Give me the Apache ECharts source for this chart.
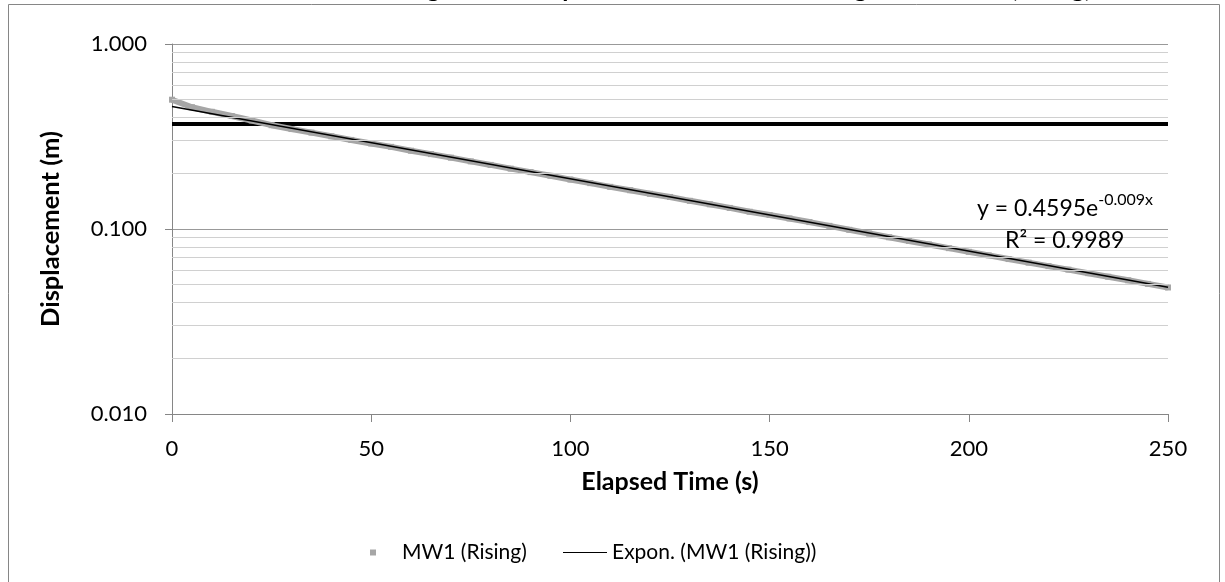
<!DOCTYPE html>
<html>
<head>
<meta charset="utf-8">
<title>MW1 (Rising)</title>
<script src="https://cdn.jsdelivr.net/npm/echarts@6/dist/echarts.min.js"></script>
<style>
  html, body { margin: 0; padding: 0; background: #fff; }
  #main { width: 1225px; height: 582px; }
</style>
</head>
<body>
<div id="main"></div>
<script>
var times = [0, 5, 10, 15, 20, 25, 30, 35, 40, 45, 50, 55, 60, 65, 70, 75, 80, 85, 90, 95,
  100, 105, 110, 115, 120, 125, 130, 135, 140, 145, 150, 155, 160, 165, 170, 175, 180, 185, 190, 195,
  200, 205, 210, 215, 220, 225, 230, 235, 240, 245, 250];
var displacement = [0.500, 0.455, 0.430, 0.408, 0.386, 0.364, 0.347, 0.332, 0.317, 0.303,
  0.290, 0.278, 0.265, 0.254, 0.243, 0.232, 0.222, 0.212, 0.203, 0.194,
  0.185, 0.177, 0.169, 0.162, 0.155, 0.149, 0.142, 0.136, 0.130, 0.124,
  0.119, 0.114, 0.109, 0.104, 0.0990, 0.0945, 0.0902, 0.0862, 0.0825, 0.0788,
  0.0753, 0.0720, 0.0688, 0.0658, 0.0630, 0.0603, 0.0577, 0.0552, 0.0528, 0.0505, 0.0483];

// exponential trendline end points (straight on a log axis)
var trendX = [0, 250];
var trendY = [0.4595, 0.0484];

// horizontal reference line
var refX = [0, 250];
var refY = [0.37, 0.37];

// minor gridlines for the log axis
var minorGrid = [0.02, 0.03, 0.04, 0.05, 0.06, 0.07, 0.08, 0.09,
  0.2, 0.3, 0.4, 0.5, 0.6, 0.7, 0.8, 0.9];

var xTicks = [0, 50, 100, 150, 200, 250];

var font = 'Lato, "Open Sans", sans-serif';

function pairs(xs, ys) {
  return xs.map(function (x, i) { return [x, ys[i]]; });
}

var chart = echarts.init(document.getElementById('main'));

var option = {
  animation: false,
  textStyle: { fontFamily: font, color: '#000' },
  title: {
    // only the bottom of the title shows in the picture
    text: 'Semi-log Plot of Displacement vs. Time for Slug Test - MW1 (Rising)',
    left: 712,
    top: -29,
    textAlign: 'center',
    textStyle: { fontFamily: font, fontSize: 25, fontWeight: 'bold', color: '#000' }
  },
  grid: { left: 172, top: 44, width: 996, height: 370 },
  legend: [
    {
      data: ['MW1 (Rising)'],
      left: 365, top: 537,
      icon: 'rect', itemWidth: 6, itemHeight: 6,
      textStyle: { fontFamily: font, fontSize: 21, color: '#000', padding: [0, 0, 0, 21] }
    },
    {
      data: ['Expon. (MW1 (Rising))'],
      left: 558, top: 537,
      icon: 'rect', itemWidth: 44, itemHeight: 1,
      textStyle: { fontFamily: font, fontSize: 21, color: '#000' }
    }
  ],
  xAxis: {
    type: 'value',
    min: 0, max: 250, interval: 50,
    name: 'Elapsed Time (s)',
    nameLocation: 'middle',
    nameGap: 55,
    nameTextStyle: { fontFamily: font, fontSize: 25, fontWeight: 'bold', color: '#000' },
    axisLine: { show: true, onZero: false, lineStyle: { color: '#868686', width: 1 } },
    axisTick: { show: true, length: 8, lineStyle: { color: '#868686' } },
    axisLabel: { fontFamily: font, fontSize: 22, color: '#000', margin: 24,
      formatter: function (v) { return xTicks.indexOf(v) >= 0 ? String(v) : ''; } },
    splitLine: { show: false }
  },
  yAxis: {
    type: 'log',
    logBase: 10,
    min: 0.01, max: 1,
    splitNumber: 2,
    name: 'Displacement (m)',
    nameLocation: 'middle',
    nameGap: 108,
    nameRotate: 90,
    nameTextStyle: { fontFamily: font, fontSize: 25.5, fontWeight: 'bold', color: '#000' },
    axisLine: { show: true, lineStyle: { color: '#868686', width: 1 } },
    axisTick: { show: true, length: 7, lineStyle: { color: '#868686' } },
    axisLabel: { fontFamily: font, fontSize: 22, color: '#000', margin: 25,
      formatter: function (v) { return v.toFixed(3); } },
    splitLine: { show: true, lineStyle: { color: '#999999', width: 1 } },
    minorTick: { show: false },
    minorSplitLine: { show: false }
  },
  series: [
    {
      name: 'grid',
      type: 'line',
      data: [],
      silent: true,
      z: 1,
      markLine: {
        silent: true,
        symbol: 'none',
        label: { show: false },
        lineStyle: { color: '#d0d0d0', width: 1, type: 'solid' },
        data: minorGrid.map(function (v) { return { yAxis: v }; })
      }
    },
    {
      name: 'MW1 (Rising)',
      type: 'line',
      data: pairs(times, displacement),
      symbol: 'rect',
      symbolSize: 6,
      showSymbol: true,
      itemStyle: { color: '#a6a6a6' },
      lineStyle: { color: '#a6a6a6', width: 6 },
      z: 3
    },
    {
      name: 'Expon. (MW1 (Rising))',
      type: 'line',
      data: pairs(trendX, trendY),
      symbol: 'none',
      itemStyle: { color: '#000' },
      lineStyle: { color: '#000', width: 1.5 },
      z: 4
    },
    {
      name: 'reference',
      type: 'line',
      data: pairs(refX, refY),
      symbol: 'none',
      itemStyle: { color: '#000' },
      lineStyle: { color: '#000', width: 4 },
      z: 2
    }
  ],
  graphic: [
    {
      type: 'rect',
      shape: { x: 8.5, y: 4.5, width: 1211, height: 600 },
      style: { fill: 'none', stroke: '#868686', lineWidth: 1 },
      silent: true, z: 0
    },
    {
      type: 'text',
      left: 977, top: 192,
      style: {
        text: '{b|y = 0.4595e}{s|-0.009x}',
        rich: {
          b: { fontFamily: font, fontSize: 23, color: '#000', lineHeight: 28, verticalAlign: 'bottom' },
          s: { fontFamily: font, fontSize: 16, color: '#000', lineHeight: 28, verticalAlign: 'top' }
        }
      },
      z: 10
    },
    {
      type: 'text',
      left: 1005, top: 229,
      style: { text: 'R² = 0.9989', fontFamily: font, fontSize: 23, fill: '#000' },
      z: 10
    }
  ]
};

chart.setOption(option);
</script>
</body>
</html>
